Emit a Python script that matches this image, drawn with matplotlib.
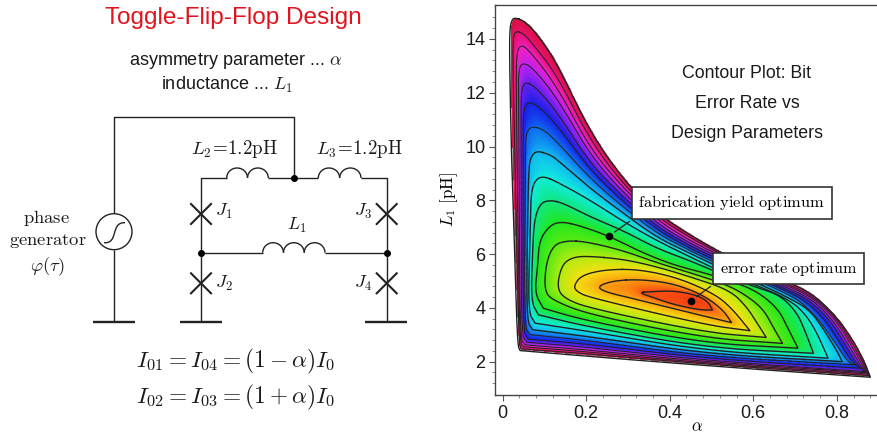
import numpy as np
import matplotlib
matplotlib.use('Agg')
import matplotlib.pyplot as plt
from matplotlib.colors import LinearSegmentedColormap
from matplotlib.patches import Arc, Circle, PathPatch
from matplotlib.path import Path

plt.rcParams['font.family'] = ['Liberation Sans', 'DejaVu Sans']
plt.rcParams['mathtext.fontset'] = 'cm'

# contour outlines, (alpha, L1), outermost first
# corners are listed twice so they stay sharp
c00 = [(.030,14.79),(.050,14.68),(.074,14.33),(.098,13.84),(.130,13.09),(.209,10.55),(.289,8.76),(.369,7.52),(.448,6.71),(.528,6.00),(.607,5.43),(.680,4.98),(.743,4.51),(.799,3.67),(.838,2.81),(.866,2.00),(.880,1.42),(.880,1.42),(.647,1.67),(.329,2.04),(.042,2.41),(.042,2.41),(.036,2.62),(.030,5.53),(.022,9.25),(.017,12.97),(.017,14.33),(.022,14.71)]
c01 = [(.030,14.30),(.050,14.21),(.074,13.78),(.130,12.66),(.209,10.24),(.289,8.59),(.369,7.39),(.448,6.62),(.528,5.94),(.607,5.37),(.687,4.85),(.747,4.39),(.796,3.67),(.832,2.81),(.864,1.94),(.877,1.48),(.877,1.48),(.488,1.90),(.209,2.29),(.045,2.47),(.045,2.47),(.039,2.68),(.030,9.25),(.025,12.97),(.025,13.96)]
c02 = [(.042,13.78),(.060,13.65),(.130,12.25),(.209,9.93),(.289,8.45),(.369,7.27),(.448,6.50),(.528,5.88),(.607,5.31),(.687,4.79),(.744,4.36),(.792,3.65),(.827,2.81),(.859,1.94),(.874,1.54),(.874,1.54),(.488,1.94),(.209,2.36),(.050,2.55),(.050,2.55),(.041,2.74),(.036,8.01),(.033,11.73),(.033,13.40)]
c03 = [(.046,13.12),(.070,12.97),(.130,11.83),(.209,9.69),(.289,8.28),(.369,7.14),(.448,6.40),(.528,5.81),(.607,5.25),(.687,4.71),(.741,4.31),(.787,3.61),(.822,2.78),(.853,1.94),(.870,1.59),(.870,1.59),(.488,1.99),(.209,2.43),(.054,2.62),(.054,2.62),(.042,2.87),(.040,8.01),(.038,11.73),(.038,12.78)]
c04 = [(.054,12.41),(.078,12.23),(.130,11.30),(.209,9.38),(.289,8.11),(.369,7.02),(.448,6.31),(.528,5.72),(.607,5.17),(.687,4.64),(.736,4.26),(.783,3.55),(.816,2.74),(.846,1.94),(.866,1.63),(.866,1.63),(.488,2.04),(.209,2.53),(.058,2.72),(.058,2.72),(.045,3.00),(.045,8.01),(.044,11.11),(.045,12.10)]
c05 = [(.060,11.67),(.086,11.51),(.130,10.80),(.209,9.13),(.289,7.94),(.369,6.90),(.448,6.21),(.528,5.63),(.607,5.11),(.687,4.57),(.731,4.19),(.775,3.49),(.808,2.68),(.838,1.94),(.858,1.75),(.858,1.75),(.488,2.11),(.209,2.65),(.062,2.83),(.062,2.83),(.049,3.12),(.049,8.01),(.049,10.49),(.050,11.36)]
c06 = [(.068,10.76),(.098,10.64),(.130,10.18),(.209,8.82),(.289,7.74),(.369,6.77),(.448,6.13),(.528,5.53),(.607,5.04),(.687,4.48),(.723,4.11),(.763,3.45),(.799,2.62),(.829,1.94),(.845,1.88),(.845,1.88),(.488,2.19),(.209,2.78),(.066,3.00),(.066,3.00),(.052,3.30),(.054,8.01),(.055,10.00),(.057,10.49)]
c07 = [(.082,9.85),(.114,9.69),(.130,9.52),(.209,8.45),(.289,7.52),(.369,6.62),(.448,6.03),(.528,5.43),(.607,4.94),(.687,4.36),(.735,3.92),(.767,3.24),(.799,2.43),(.813,2.00),(.813,2.00),(.488,2.29),(.209,2.93),(.072,3.18),(.072,3.18),(.057,3.55),(.060,7.39),(.063,9.25),(.068,9.62)]
c08 = [(.098,8.90),(.130,8.69),(.209,8.01),(.289,7.21),(.369,6.50),(.448,5.90),(.528,5.31),(.607,4.85),(.687,4.29),(.723,3.80),(.751,3.12),(.779,2.13),(.779,2.13),(.488,2.40),(.209,3.12),(.078,3.43),(.078,3.43),(.061,3.86),(.066,6.77),(.068,8.26),(.078,8.76)]
c09 = [(.114,8.01),(.146,7.89),(.209,7.39),(.289,6.87),(.369,6.21),(.448,5.76),(.528,5.22),(.607,4.76),(.663,4.48),(.703,3.86),(.723,3.18),(.744,2.31),(.744,2.31),(.488,2.52),(.209,3.28),(.086,3.74),(.086,3.74),(.068,4.23),(.072,6.15),(.076,7.27),(.090,7.89)]
c10 = [(.142,7.21),(.186,7.05),(.255,6.67),(.329,6.09),(.408,5.60),(.488,5.28),(.544,5.01),(.607,4.64),(.659,3.98),(.683,3.24),(.707,2.50),(.707,2.50),(.488,2.68),(.209,3.49),(.098,3.98),(.098,3.98),(.077,4.54),(.084,5.53),(.088,6.52),(.114,7.08)]
c11 = [(.154,6.50),(.201,6.46),(.289,6.13),(.369,5.68),(.448,5.31),(.528,4.91),(.576,4.54),(.623,3.98),(.647,3.30),(.670,2.68),(.670,2.68),(.488,2.87),(.209,3.74),(.118,4.29),(.100,4.66),(.104,5.66),(.122,6.34)]
c12 = [(.201,5.93),(.289,5.81),(.369,5.53),(.448,5.16),(.544,4.66),(.584,4.04),(.607,3.49),(.631,2.90),(.631,2.90),(.488,3.08),(.209,3.98),(.146,4.36),(.130,4.79),(.142,5.60),(.166,5.87)]
c13 = [(.249,5.43),(.329,5.43),(.424,5.10),(.512,4.48),(.552,3.92),(.592,3.15),(.592,3.15),(.488,3.36),(.209,4.38),(.178,4.60),(.170,4.81),(.189,5.22)]
c14 = [(.265,5.01),(.329,5.06),(.408,4.91),(.480,4.48),(.528,3.92),(.548,3.45),(.548,3.45),(.488,3.67),(.329,4.29),(.249,4.57),(.225,4.79)]
c15 = [(.325,4.57),(.353,4.60),(.408,4.64),(.464,4.48),(.492,4.23),(.502,3.92),(.502,3.92),(.472,3.92),(.408,4.13),(.361,4.38)]
contours = [c00, c01, c02, c03, c04, c05, c06, c07, c08, c09, c10, c11, c12, c13, c14, c15]

# colour on each contour line, outermost first, last one is the optimum point
level_colors = ['#d81040', '#e8106c', '#f020c0', '#c020f0', '#6020f0', '#1820e8', '#1068f0', '#10b8f0',
                '#10ecdc', '#10e880', '#20e820', '#58ea14', '#b0ec10', '#f4e010', '#fca010', '#f85010', '#f03010']

yield_opt = (.255, 6.67)
error_opt = (.451, 4.26)
x_ticks = [0, .2, .4, .6, .8]
x_labels = ['0', '0.2', '0.4', '0.6', '0.8']
y_ticks = [2, 4, 6, 8, 10, 12, 14]

# schematic, in picture pixels
wires = [[(114, 213), (114, 116.7), (294, 116.7), (294, 178)],
         [(114, 250), (114, 321.7)],
         [(201, 321.7), (201, 178), (226.7, 178)],
         [(268.3, 178), (318.3, 178)],
         [(361, 178), (386.7, 178), (386.7, 321.7)],
         [(201, 252.7), (262.7, 252.7)],
         [(325, 252.7), (386.7, 252.7)]]
grounds = [(93.3, 135), (180.3, 222.3), (365.3, 407)]
ground_y = 321.7
nodes = [(294, 178), (201, 252.7), (386.7, 252.7)]
junctions = [(201, 214), (201, 283.3), (386.7, 214), (386.7, 283.3)]
inductors = [(226.7, 268.3, 178, 2), (318.3, 361, 178, 2), (262.7, 325, 252.7, 3)]
source = (114, 231.7, 18)


def smooth(pts, n=4):
    p = np.array(pts, dtype=float)
    for _ in range(n):
        q = np.roll(p, -1, axis=0)
        new = np.empty((len(p) * 2, 2))
        new[0::2] = .75 * p + .25 * q
        new[1::2] = .25 * p + .75 * q
        p = new
    return p


def nearest(points, line):
    # distance to the closest outline vertex, on the screen scale
    out = np.empty(len(points))
    for i in range(0, len(points), 2000):
        chunk = points[i:i + 2000]
        dx = (chunk[:, 0, None] - line[:, 0]) * 418
        dy = (chunk[:, 1, None] - line[:, 1]) * 26.9
        out[i:i + 2000] = np.hypot(dx, dy).min(axis=1)
    return out


fig = plt.figure(figsize=(8.77, 4.34), dpi=100)
ax = fig.add_axes([495 / 877, 1 - 395 / 434, 382 / 877, 390.5 / 434])

outlines = [smooth(c) for c in contours]

# shade each band from the two contours around it
extent = (0, .89, 1.3, 14.9)
gx, gy = np.meshgrid(np.linspace(0, .89, 420), np.linspace(1.3, 14.9, 420))
grid = np.column_stack([gx.ravel(), gy.ravel()])
depth = sum(Path(o).contains_points(grid).astype(int) for o in outlines)
shade = np.full(len(grid), np.nan)
for k in range(len(outlines)):
    idx = np.where(depth == k + 1)[0]
    inner = outlines[k + 1] if k + 1 < len(outlines) else np.array([error_opt])
    d0 = nearest(grid[idx], outlines[k])
    d1 = nearest(grid[idx], inner)
    shade[idx] = k + d0 / (d0 + d1 + 1e-9)
shade = np.ma.masked_invalid(shade.reshape(gx.shape))

cmap = LinearSegmentedColormap.from_list('bands', level_colors, N=512)
ax.imshow(shade, extent=extent, origin='lower', aspect='auto', cmap=cmap, vmin=0, vmax=len(outlines),
          interpolation='bilinear')

for i, o in enumerate(outlines):
    closed = np.vstack([o, o[:1]])
    ax.plot(closed[:, 0], closed[:, 1], color='#222222', lw=1.0 if i == 0 or i >= 7 else .75, solid_joinstyle='round')

ax.set_xlim(-.018, .896)
ax.set_ylim(.76, 15.28)
ax.set_xticks(x_ticks, x_labels)
ax.set_yticks(y_ticks)
ax.set_xticks(np.arange(0, .9, .04), minor=True)
ax.set_yticks(np.arange(1.2, 15.2, .4), minor=True)
ax.tick_params(which='major', length=4, width=.8, color='#555555', labelsize=13, labelcolor='#1a1a1a', pad=3)
ax.tick_params(which='minor', length=2, width=.6, color='#777777')
ax.spines['right'].set_visible(False)
for s in ['left', 'bottom', 'top']:
    ax.spines[s].set_color('#444444')
    ax.spines[s].set_linewidth(1.0)

ax.set_xlabel(r'$\alpha$', fontsize=12)
ax.xaxis.set_label_coords((697 - 495) / 382, -24 / 390.5, transform=ax.transAxes)
ax.set_ylabel(r'$L_1\ [\mathrm{pH}]$', fontsize=12.2)
ax.yaxis.set_label_coords(-35 / 382, (395 - 200) / 390.5, transform=ax.transAxes)
ax.plot(*yield_opt, 'o', color='black', ms=4.5)
ax.plot(*error_opt, 'o', color='black', ms=4.5)
box = dict(boxstyle='square,pad=0.4', fc='white', ec='#333333', lw=1.2)
ax.annotate(r'$\mathrm{fabrication\ yield\ optimum}$', xy=yield_opt, xytext=(.548, 7.90), ha='center', va='center',
            fontsize=11.8, bbox=box, arrowprops=dict(arrowstyle='-', color='#222222', lw=.9, relpos=(.02, 0), shrinkB=5))
ax.annotate(r'$\mathrm{error\ rate\ optimum}$', xy=error_opt, xytext=(.684, 5.46), ha='center', va='center',
            fontsize=11.7, bbox=box, arrowprops=dict(arrowstyle='-', color='#222222', lw=.9, relpos=(.02, 0), shrinkB=5))

# overlay in picture pixels for the schematic and free text
ov = fig.add_axes([0, 0, 1, 1], facecolor='none')
ov.set_xlim(0, 877)
ov.set_ylim(434, 0)
ov.axis('off')
ink = '#222222'

for w in wires:
    ov.plot(*zip(*w), color=ink, lw=1.0, solid_capstyle='butt')
for x0, x1 in grounds:
    ov.plot([x0, x1], [ground_y, ground_y], color=ink, lw=1.7, solid_capstyle='butt')
for x, y in nodes:
    ov.plot(x, y, 'o', color='black', ms=4)
for x, y in junctions:
    ov.plot([x - 10, x + 10], [y - 10, y + 10], color=ink, lw=1.5)
    ov.plot([x - 10, x + 10], [y + 10, y - 10], color=ink, lw=1.5)
for x0, x1, y, humps in inductors:
    w = (x1 - x0) / humps
    for k in range(humps):
        ov.add_patch(Arc((x0 + w * (k + .5), y), w, 20, theta1=180, theta2=360, color=ink, lw=1.0))
ov.add_patch(Circle(source[:2], source[2], fc='white', ec=ink, lw=1.0))
ov.add_patch(PathPatch(Path([(104, 242.7), (119, 244), (110, 222), (125, 222.7)],
                            [Path.MOVETO, Path.CURVE4, Path.CURVE4, Path.CURVE4]), fc='none', ec=ink, lw=1.0))

t = dict(ha='center', va='center', color='#1a1a1a')
ov.text(233.5, 18, 'Toggle-Flip-Flop Design', fontsize=17.6, color='#e0141e', ha='center', va='center')
ov.text(235.5, 61, r'asymmetry parameter ... $\alpha$', fontsize=13, **t)
ov.text(227, 85, r'inductance ... $L_1$', fontsize=13, **t)
ov.text(46.7, 218, r'$\mathrm{phase}$', fontsize=13.4, **t)
ov.text(47.7, 240.7, r'$\mathrm{generator}$', fontsize=13.4, **t)
ov.text(47.7, 266.7, r'$\varphi(\tau)$', fontsize=13.4, **t)
ov.text(234.3, 149, r'$L_2\!=\!1.2\mathrm{pH}$', fontsize=13.6, **t)
ov.text(359.3, 149, r'$L_3\!=\!1.2\mathrm{pH}$', fontsize=13.6, **t)
ov.text(296.7, 225, r'$L_1$', fontsize=13, **t)
ov.text(224, 211, r'$J_1$', fontsize=13, **t)
ov.text(224, 283, r'$J_2$', fontsize=13, **t)
ov.text(362.7, 211, r'$J_3$', fontsize=13, **t)
ov.text(362.7, 283, r'$J_4$', fontsize=13, **t)
ov.text(235.7, 361.7, r'$I_{01}=I_{04}=(1-\alpha)I_0$', fontsize=16.8, **t)
ov.text(235.7, 397.7, r'$I_{02}=I_{03}=(1+\alpha)I_0$', fontsize=16.8, **t)
ov.text(747, 73, 'Contour Plot: Bit', fontsize=12.8, **t)
ov.text(747, 103, 'Error Rate vs', fontsize=12.8, **t)
ov.text(747, 133.5, 'Design Parameters', fontsize=12.8, **t)

plt.savefig('out.png', dpi=100)
